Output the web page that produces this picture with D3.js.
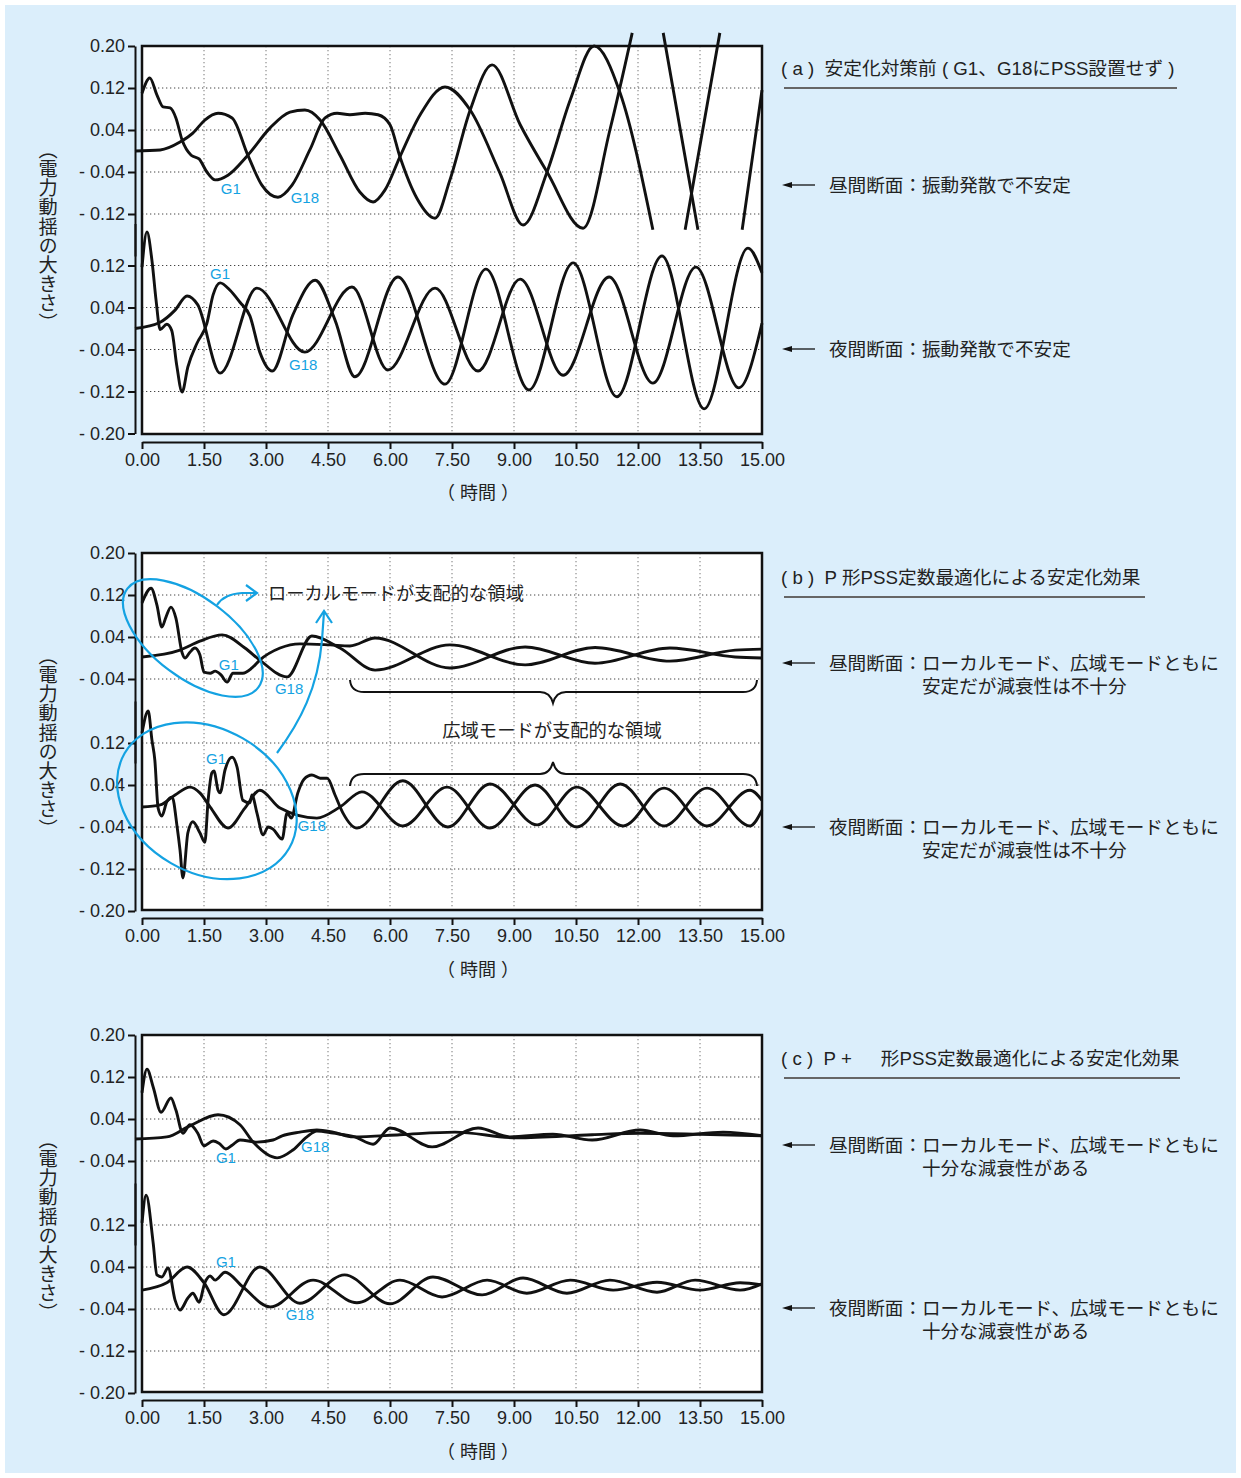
<!DOCTYPE html>
<html>
<head>
<meta charset="utf-8">
<script src="https://cdn.jsdelivr.net/npm/d3@7"></script>
<style>
  body { margin: 0; background: #fff; }
  text { font-family: "Liberation Sans", Arial, "Noto Sans CJK JP", sans-serif; }
</style>
</head>
<body>
<svg id="chart" width="1241" height="1478"></svg>
<script>
// ---- data (time in seconds, swing in p.u.) ----
const xTicks = [0, 1.5, 3, 4.5, 6, 7.5, 9, 10.5, 12, 13.5, 15];
const upperTicksA = [0.2, 0.12, 0.04, -0.04, -0.12];
const upperTicksBC = [0.2, 0.12, 0.04, -0.04];
const lowerTicks = [0.12, 0.04, -0.04, -0.12, -0.2];

// (a) before stabilization -- null marks where the trace leaves the plotted band
const aDayG1 = [[0,0.110],[0.19,0.139],[0.36,0.107],[0.51,0.084],[0.68,0.082],[0.82,0.063],[0.97,0.021],[1.19,-0.008],[1.38,-0.015],[1.57,-0.040],[1.77,-0.055],[2.08,-0.046],[2.56,-0.008],[3.10,0.044],[3.58,0.074],[3.94,0.078],[4.31,0.059],[4.79,-0.008],[5.27,-0.078],[5.59,-0.097],[5.88,-0.074],[6.24,-0.011],[6.73,0.069],[7.33,0.122],[7.94,0.078],[8.66,-0.042],[9.22,-0.141],[9.80,-0.040],[10.36,0.097],[10.94,0.200],[11.57,0.110],[12.36,-0.150],null,[13.14,-0.150],[13.98,0.225]];
const aDayG18 = [[-0.17,0],[0.44,0.002],[0.92,0.017],[1.23,0.034],[1.52,0.059],[1.84,0.072],[2.18,0.063],[2.56,-0.008],[2.90,-0.065],[3.29,-0.088],[3.63,-0.065],[4.06,0.002],[4.43,0.063],[4.72,0.072],[5.03,0.069],[5.40,0.072],[5.71,0.069],[6.00,0.050],[6.24,-0.011],[6.65,-0.090],[7.09,-0.128],[7.45,-0.055],[7.94,0.078],[8.47,0.164],[9.15,0.050],[9.80,-0.040],[10.67,-0.147],[11.32,0.040],[11.86,0.225],null,[12.61,0.225],[13.45,-0.150],null,[14.52,-0.150],[15,0.116]];
const aNightG1 = [[0,0.117],[0.12,0.184],[0.24,0.130],[0.34,0.054],[0.44,-0.002],[0.60,0.008],[0.72,-0.004],[0.84,-0.070],[0.97,-0.121],[1.11,-0.073],[1.33,-0.028],[1.57,0.010],[1.72,0.064],[1.89,0.087],[2.13,0.073],[2.37,0.050],[2.61,0.024],[2.85,-0.045],[3.15,-0.081],[3.65,0.026],[4.19,0.092],[4.67,0.016],[5.15,-0.092],[6.19,0.098],[7.33,-0.106],[8.32,0.113],[9.36,-0.117],[10.43,0.125],[11.49,-0.130],[12.58,0.138],[13.60,-0.153],[14.66,0.153],[15,0.106]];
const aNightG18 = [[-0.17,0],[0.44,0.012],[0.80,0.035],[1.09,0.062],[1.35,0.045],[1.89,-0.085],[2.78,0.077],[3.94,-0.045],[5.08,0.079],[5.95,-0.079],[7.09,0.077],[8.13,-0.081],[9.15,0.094],[10.19,-0.089],[11.30,0.098],[12.36,-0.104],[13.40,0.117],[14.44,-0.113],[15,0.010]];

// (b) P-type PSS
const bDayG1 = [[0,0.105],[0.22,0.133],[0.36,0.101],[0.48,0.059],[0.58,0.078],[0.70,0.097],[0.82,0.076],[0.97,0.010],[1.04,0],[1.16,0.011],[1.28,0.019],[1.40,0.006],[1.50,-0.027],[1.65,-0.029],[1.77,-0.025],[1.91,-0.032],[2.06,-0.046],[2.20,-0.029],[2.44,-0.029],[2.66,-0.019],[2.85,-0.004],[3.34,0.019],[3.82,0.027],[4.55,0.025],[5.03,0.023],[5.64,0.038],[7.45,-0.019],[9.27,0.021],[10.96,-0.010],[12.77,0.019],[14.35,0.002],[15,0]];
const bDayG18 = [[0,0.002],[0.92,0.015],[1.40,0.032],[1.94,0.044],[2.49,0.019],[2.85,-0.004],[3.51,-0.036],[4.11,0.042],[4.79,0.019],[5.64,-0.023],[7.45,0.025],[9.27,-0.013],[10.96,0.020],[12.77,-0.006],[14.35,0.015],[15,0.017]];
const bNightG1 = [[0,0.139],[0.15,0.181],[0.24,0.126],[0.31,0.088],[0.39,-0.004],[0.48,-0.019],[0.60,0.008],[0.73,0.017],[0.85,-0.040],[0.92,-0.084],[0.99,-0.137],[1.11,-0.051],[1.23,-0.030],[1.40,-0.051],[1.52,-0.069],[1.60,0.011],[1.69,0.063],[1.74,0.067],[1.84,0.030],[1.89,0.025],[2.01,0.069],[2.18,0.093],[2.30,0.074],[2.44,0.011],[2.61,0.006],[2.66,0.021],[2.78,-0.013],[2.93,-0.055],[3.05,-0.040],[3.17,-0.044],[3.39,-0.063],[3.51,-0.013],[3.61,-0.023],[3.77,0.025],[3.92,0.051],[4.11,0.059],[4.31,0.053],[4.48,0.053],[4.67,0.021],[4.86,-0.013],[5.20,-0.042],[6.31,0.048],[7.40,-0.040],[8.42,0.042],[9.56,-0.036],[10.52,0.036],[11.64,-0.038],[12.63,0.034],[13.67,-0.038],[14.71,0.030],[15,0.011]];
const bNightG18 = [[0,-0.002],[0.44,0.002],[0.80,0.021],[1.16,0.036],[1.40,0.025],[1.65,-0.002],[2.08,-0.042],[2.49,-0.004],[2.85,0.030],[3.34,-0.004],[4.23,-0.023],[4.79,-0.002],[5.32,0.027],[6.31,-0.038],[7.38,0.036],[8.42,-0.042],[9.51,0.040],[10.52,-0.040],[11.57,0.042],[12.63,-0.038],[13.67,0.034],[14.71,-0.038],[15,-0.008]];

// (c) P+ω-type PSS
const cDayG1 = [[0,0.090],[0.12,0.135],[0.27,0.101],[0.46,0.053],[0.70,0.080],[0.82,0.057],[0.99,0.013],[1.16,0.029],[1.35,0.013],[1.50,-0.011],[1.72,-0.002],[1.86,-0.006],[2.03,-0.017],[2.18,-0.010],[2.37,0],[2.78,-0.004],[3.17,0],[3.39,0.008],[3.82,0.015],[4.23,0.019],[4.62,0.015],[5.11,0.006],[6.24,0.010],[7.57,0.015],[9.07,0.004],[10.89,0.010],[12.05,0.013],[13.5,0.011],[15,0.008]];
const cDayG18 = [[-0.17,0.002],[0.60,0.006],[1.16,0.027],[1.84,0.048],[2.37,0.029],[2.69,-0.004],[3.27,-0.034],[3.65,-0.019],[3.99,0.006],[4.23,0.017],[4.62,0.013],[5.15,0.006],[5.59,-0.008],[6.00,0.023],[7.02,-0.013],[8.13,0.023],[8.90,0.006],[9.94,0.011],[10.89,0],[12.05,0.019],[12.85,0.008],[14.06,0.015],[15,0.008]];
const cNightG1 = [[0,0.124],[0.10,0.177],[0.27,0.086],[0.36,0.025],[0.48,0.021],[0.63,0.038],[0.80,-0.023],[0.92,-0.042],[1.11,-0.019],[1.23,-0.010],[1.38,-0.027],[1.52,0.010],[1.65,0.023],[1.77,0.015],[2.01,0.030],[2.44,0.002],[3.10,-0.036],[4.14,0.015],[5.2,-0.028],[6.24,0.015],[7.26,-0.017],[8.35,0.015],[9.31,-0.010],[10.36,0.015],[11.40,-0.004],[12.46,0.011],[13.50,-0.004],[14.47,0.010],[15,0.006]];
const cNightG18 = [[0,-0.004],[0.60,0.010],[1.09,0.040],[1.50,0.010],[1.98,-0.051],[2.85,0.040],[3.82,-0.029],[4.9,0.025],[6.0,-0.030],[7.04,0.021],[8.23,-0.013],[9.22,0.019],[10.28,-0.010],[11.32,0.015],[12.46,-0.008],[13.38,0.015],[14.47,-0.004],[15,0.008]];

// label anchors [t, v]
const labelsA = [{ t: 'G1', at: [2.15, -0.072], row: 'up' }, { t: 'G18', at: [3.94, -0.088], row: 'up' },
  { t: 'G1', at: [1.89, 0.104], row: 'low' }, { t: 'G18', at: [3.90, -0.068], row: 'low' }];
const labelsB = [{ t: 'G1', at: [2.10, -0.013], row: 'up' }, { t: 'G18', at: [3.56, -0.059], row: 'up' },
  { t: 'G1', at: [1.79, 0.091], row: 'low' }, { t: 'G18', at: [4.11, -0.038], row: 'low' }];
const labelsC = [{ t: 'G1', at: [2.03, -0.034], row: 'up' }, { t: 'G18', at: [4.19, -0.013], row: 'up' },
  { t: 'G1', at: [2.03, 0.051], row: 'low' }, { t: 'G18', at: [3.82, -0.050], row: 'low' }];

// ---- layout ----
const blue = '#14a2e2';
const ink = '#111';
const left = 142;
const right = 762;
const axisX = 135;
const pxPerUnit = 525;

const panels = [
  {
    top: 46, bottom: 434, upZero: 151, lowZero: 328.5, upTicks: upperTicksA,
    series: { up: [aDayG1, aDayG18], low: [aNightG1, aNightG18] }, labels: labelsA,
    title: '( a )  安定化対策前 ( G1、G18にPSS設置せず )', titleY: 68, ruleTo: 1177,
    notes: [{ y: 185, lines: ['昼間断面：振動発散で不安定'] }, { y: 349, lines: ['夜間断面：振動発散で不安定'] }],
    yLabelY: 236, xLabelY: 493,
  },
  {
    top: 553, bottom: 910, upZero: 658, lowZero: 806, upTicks: upperTicksBC,
    series: { up: [bDayG1, bDayG18], low: [bNightG1, bNightG18] }, labels: labelsB,
    title: '( b )  P 形PSS定数最適化による安定化効果', titleY: 577, ruleTo: 1145,
    notes: [{ y: 663, lines: ['昼間断面：ローカルモード、広域モードともに', '安定だが減衰性は不十分'] },
      { y: 827, lines: ['夜間断面：ローカルモード、広域モードともに', '安定だが減衰性は不十分'] }],
    yLabelY: 742, xLabelY: 970,
  },
  {
    top: 1035, bottom: 1392, upZero: 1140, lowZero: 1288, upTicks: upperTicksBC,
    series: { up: [cDayG1, cDayG18], low: [cNightG1, cNightG18] }, labels: labelsC,
    title: '( c )  P +　  形PSS定数最適化による安定化効果', titleY: 1058, ruleTo: 1180,
    notes: [{ y: 1145, lines: ['昼間断面：ローカルモード、広域モードともに', '十分な減衰性がある'] },
      { y: 1308, lines: ['夜間断面：ローカルモード、広域モードともに', '十分な減衰性がある'] }],
    yLabelY: 1226, xLabelY: 1452,
  },
];

const svg = d3.select('#chart');

svg.append('rect')
  .attr('x', 5).attr('y', 5)
  .attr('width', 1231).attr('height', 1468)
  .attr('fill', '#dbeefb');

const x = d3.scaleLinear().domain([0, 15]).range([left, right]);
const fmtY = d => (d < 0 ? `- ${Math.abs(d).toFixed(2)}` : d.toFixed(2));

const styleAxis = (g) => {
  g.attr('font-size', null).attr('font-family', null);
  g.select('.domain').attr('stroke', ink).attr('stroke-width', 2);
  g.selectAll('.tick line').attr('stroke', ink).attr('stroke-width', 2);
  g.selectAll('.tick text').attr('fill', '#222').style('font-size', '18px');
};

panels.forEach((p, pi) => {
  const yUp = d3.scaleLinear().domain([-0.2, 0.2]).range([p.upZero + 0.2 * pxPerUnit, p.upZero - 0.2 * pxPerUnit]);
  const yLow = d3.scaleLinear().domain([-0.2, 0.2]).range([p.lowZero + 0.2 * pxPerUnit, p.lowZero - 0.2 * pxPerUnit]);
  const yOf = { up: yUp, low: yLow };

  // plot face
  svg.append('rect')
    .attr('x', left).attr('y', p.top)
    .attr('width', right - left).attr('height', p.bottom - p.top)
    .attr('fill', '#fff');

  // dotted grid
  const grid = svg.append('g')
    .attr('stroke', '#444')
    .attr('stroke-width', 1)
    .attr('stroke-dasharray', '1.3,2.7');
  xTicks.slice(1, -1).forEach((t) => {
    grid.append('line')
      .attr('x1', x(t)).attr('x2', x(t))
      .attr('y1', p.top).attr('y2', p.bottom)
      .attr('stroke', '#777');
  });
  p.upTicks.filter(v => Math.abs(v) < 0.2).forEach((v) => {
    grid.append('line').attr('x1', left).attr('x2', right).attr('y1', yUp(v)).attr('y2', yUp(v));
  });
  lowerTicks.filter(v => Math.abs(v) < 0.2).forEach((v) => {
    grid.append('line').attr('x1', left).attr('x2', right).attr('y1', yLow(v)).attr('y2', yLow(v));
  });

  // axes
  svg.append('g')
    .attr('transform', `translate(${axisX},0)`)
    .call(d3.axisLeft(yUp).tickValues(p.upTicks).tickSize(7).tickSizeOuter(0).tickPadding(3).tickFormat(fmtY))
    .call(styleAxis);
  svg.append('g')
    .attr('transform', `translate(${axisX},0)`)
    .call(d3.axisLeft(yLow).tickValues(lowerTicks).tickSize(7).tickSizeOuter(0).tickPadding(3).tickFormat(fmtY))
    .call(styleAxis);
  svg.append('g')
    .attr('transform', `translate(0,${p.bottom + 8})`)
    .call(d3.axisBottom(x).tickValues(xTicks).tickSize(7).tickSizeOuter(0).tickPadding(4).tickFormat(d3.format('.2f')))
    .call(styleAxis);

  // traces
  ['up', 'low'].forEach((row) => {
    const line = d3.line()
      .defined(d => d)
      .x(d => x(d[0]))
      .y(d => yOf[row](d[1]))
      .curve(d3.curveMonotoneX);
    p.series[row].forEach((s) => {
      svg.append('path')
        .datum(s)
        .attr('d', line)
        .attr('fill', 'none')
        .attr('stroke', ink)
        .attr('stroke-width', 2.9)
        .attr('stroke-linejoin', 'round');
    });
  });

  // frame
  svg.append('rect')
    .attr('x', left).attr('y', p.top)
    .attr('width', right - left).attr('height', p.bottom - p.top)
    .attr('fill', 'none')
    .attr('stroke', ink)
    .attr('stroke-width', 2.5);

  // G1 / G18 labels
  p.labels.forEach((l) => {
    svg.append('text')
      .attr('x', x(l.at[0]))
      .attr('y', yOf[l.row](l.at[1]))
      .attr('text-anchor', 'middle')
      .attr('dominant-baseline', 'central')
      .attr('fill', blue)
      .style('font-size', '15px')
      .text(l.t);
  });

  // axis titles
  svg.append('text')
    .attr('x', 48).attr('y', p.yLabelY)
    .attr('text-anchor', 'middle')
    .style('writing-mode', 'vertical-rl')
    .style('font-size', '19.2px')
    .style('font-family', '"Noto Sans CJK JP", sans-serif')
    .attr('fill', '#222')
    .text('（電力動揺の大きさ）');
  svg.append('text')
    .attr('x', 478).attr('y', p.xLabelY)
    .attr('text-anchor', 'middle')
    .attr('dominant-baseline', 'central')
    .style('font-size', '18px')
    .attr('fill', '#222')
    .text('（ 時間 ）');

  // right-hand captions
  svg.append('text')
    .attr('x', 781).attr('y', p.titleY)
    .attr('dominant-baseline', 'central')
    .attr('xml:space', 'preserve')
    .style('white-space', 'pre')
    .style('font-size', '18.7px')
    .attr('fill', '#222')
    .text(p.title);
  svg.append('line')
    .attr('x1', 784).attr('x2', p.ruleTo)
    .attr('y1', p.titleY + 20).attr('y2', p.titleY + 20)
    .attr('stroke', '#666').attr('stroke-width', 2);

  p.notes.forEach((n) => {
    svg.append('line')
      .attr('x1', 786).attr('x2', 815)
      .attr('y1', n.y).attr('y2', n.y)
      .attr('stroke', ink).attr('stroke-width', 1.3);
    svg.append('path')
      .attr('d', `M782,${n.y} L792,${n.y - 3} L792,${n.y + 3} Z`)
      .attr('fill', ink);
    n.lines.forEach((ln, i) => {
      svg.append('text')
        .attr('x', i === 0 ? 829 : 922)
        .attr('y', n.y + i * 23)
        .attr('dominant-baseline', 'central')
        .style('font-size', '18.6px')
        .attr('fill', '#222')
        .text(ln);
    });
  });

  // annotations of panel (b)
  if (pi === 1) {
    const ann = svg.append('g')
      .attr('fill', 'none')
      .attr('stroke', blue)
      .attr('stroke-width', 2.2);
    ann.append('ellipse')
      .attr('cx', 0).attr('cy', 0).attr('rx', 82).attr('ry', 40)
      .attr('transform', `translate(${x(1.23)},${yUp(0.038)}) rotate(37)`);
    ann.append('ellipse')
      .attr('cx', 0).attr('cy', 0).attr('rx', 95).attr('ry', 72)
      .attr('transform', `translate(${x(1.57)},${yLow(0.010)}) rotate(30)`);
    ann.append('path').attr('d', 'M217,605 Q224,594 242,593 L256,593');
    ann.append('path').attr('d', 'M246,585 L257,593 L246,601');
    ann.append('path').attr('d', 'M277,753 C300,722 318,688 322,640 L324,612');
    ann.append('path').attr('d', 'M316,623 L324,611 L332,623');

    svg.append('text')
      .attr('x', 268).attr('y', 593)
      .attr('dominant-baseline', 'central')
      .style('font-size', '18.3px')
      .attr('fill', '#222')
      .text('ローカルモードが支配的な領域');

    const brace = svg.append('g')
      .attr('fill', 'none').attr('stroke', ink).attr('stroke-width', 2);
    brace.append('path')
      .attr('d', 'M350,680 Q351,692 364,692 L540,692 Q550,692 553,703 Q556,692 566,692 L743,692 Q756,692 757,680');
    brace.append('path')
      .attr('d', 'M350,786 Q351,774 364,774 L540,774 Q550,774 553,762 Q556,774 566,774 L743,774 Q756,774 757,786');
    svg.append('text')
      .attr('x', 552).attr('y', 730)
      .attr('text-anchor', 'middle')
      .attr('dominant-baseline', 'central')
      .style('font-size', '18.3px')
      .attr('fill', '#222')
      .text('広域モードが支配的な領域');
  }
});
</script>
</body>
</html>
